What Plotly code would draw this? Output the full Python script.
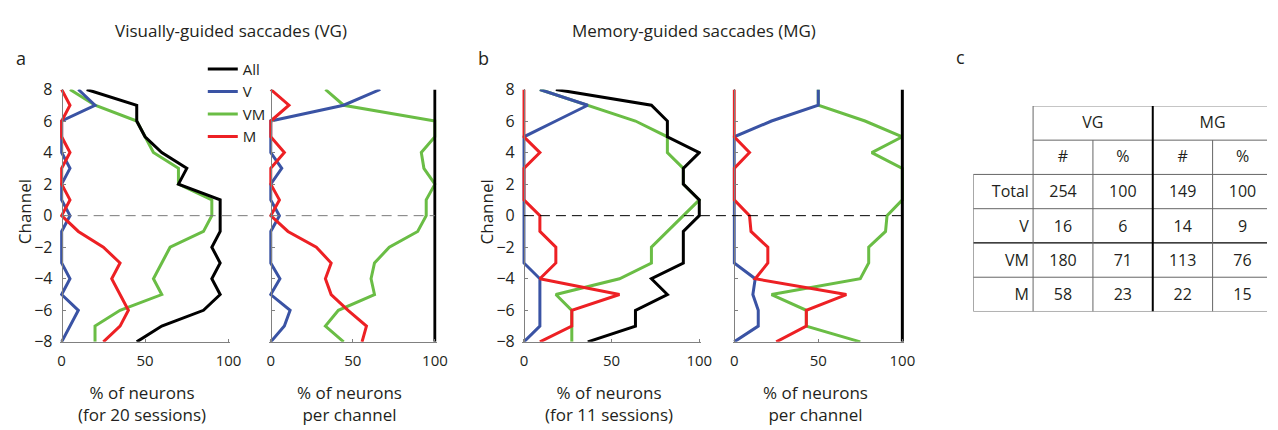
import plotly.graph_objects as go

W, H = 1278, 430
FONT = "Open Sans"
TXT = "#231f20"

# recording channels, top (8) to bottom (-8)
channels = [8, 7, 6, 5, 4, 3, 2, 1, 0, -1, -2, -3, -4, -5, -6, -7, -8]

# Visually-guided saccades: % of neurons (20 sessions)
vg_all = [15, 45, 45, 50, 60, 75, 70, 95, 95, 95, 90, 95, 90, 95, 85, 60, 45]
vg_v = [10, 20, 0, 0, 0, 5, 0, 0, 5, 0, 0, 0, 5, 0, 10, 5, 0]
vg_vm = [5, 20, 45, 50, 55, 70, 70, 90, 90, 85, 65, 60, 55, 60, 35, 20, 20]
vg_m = [0, 5, 0, 0, 5, 0, 0, 5, 0, 10, 25, 35, 30, 35, 40, 35, 25]

# Visually-guided saccades: % of neurons per channel
vgc_all = [100, 100, 100, 100, 100, 100, 100, 100, 100, 100, 100, 100, 100, 100, 100, 100, 100]
vgc_v = [66.7, 44.4, 0, 0, 0, 6.7, 0, 0, 5.3, 0, 0, 0, 5.6, 0, 11.8, 8.3, 0]
vgc_vm = [33.3, 44.4, 100, 100, 91.7, 93.3, 100, 94.7, 94.7, 89.5, 72.2, 63.2, 61.1, 63.2, 41.2, 33.3, 44.4]
vgc_m = [0, 11.1, 0, 0, 8.3, 0, 0, 5.3, 0, 10.5, 27.8, 36.8, 33.3, 36.8, 47.1, 58.3, 55.6]

# Memory-guided saccades: % of neurons (11 sessions)
mg_all = [18.2, 72.7, 81.8, 81.8, 100, 90.9, 90.9, 100, 100, 90.9, 90.9, 90.9, 72.7, 81.8, 63.6, 63.6, 36.4]
mg_v = [9.1, 36.4, 18.2, 0, 0, 0, 0, 0, 0, 0, 0, 0, 9.1, 9.1, 9.1, 9.1, 0]
mg_vm = [9.1, 36.4, 63.6, 81.8, 81.8, 90.9, 90.9, 100, 90.9, 81.8, 72.7, 72.7, 54.5, 18.2, 27.3, 27.3, 27.3]
mg_m = [0, 0, 0, 0, 9.1, 0, 0, 0, 9.1, 9.1, 18.2, 18.2, 9.1, 54.5, 27.3, 27.3, 9.1]

# Memory-guided saccades: % of neurons per channel
mgc_all = [100, 100, 100, 100, 100, 100, 100, 100, 100, 100, 100, 100, 100, 100, 100, 100, 100]
mgc_v = [50, 50, 22.2, 0, 0, 0, 0, 0, 0, 0, 0, 0, 12.5, 11.1, 14.3, 14.3, 0]
mgc_vm = [50, 50, 77.8, 100, 81.8, 100, 100, 100, 90.9, 90, 80, 80, 75, 22.2, 42.9, 42.9, 75]
mgc_m = [0, 0, 0, 0, 9.1, 0, 0, 0, 9.1, 10, 20, 20, 12.5, 66.7, 42.9, 42.9, 25]

# summary table (panel c)
table_groups = ["VG", "MG"]
table_cols = ["#", "%", "#", "%"]
table_rows = ["Total", "V", "VM", "M"]
vg_count = [254, 16, 180, 58]
vg_pct = [100, 6, 71, 23]
mg_count = [149, 14, 113, 22]
mg_pct = [100, 9, 76, 15]

x_ticks = [0, 50, 100]
y_ticks = [8, 6, 4, 2, 0, -2, -4, -6, -8]

colors = {"All": "#000000", "V": "#3a53a4", "VM": "#6abd45", "M": "#ed2024"}
legend_rank = {"All": 1, "V": 2, "VM": 3, "M": 4}
draw_order = ["VM", "V", "M", "All"]


def px(x):
    return x / W


def py(y):
    return 1 - y / H


panels = [
    dict(series={"All": vg_all, "V": vg_v, "VM": vg_vm, "M": vg_m},
         x0=59.3, x100=228.0, title="% of neurons<br>(for 20 sessions)", labels=True),
    dict(series={"All": vgc_all, "V": vgc_v, "VM": vgc_vm, "M": vgc_m},
         x0=270.7, x100=436.7, title="% of neurons<br>per channel", labels=False),
    dict(series={"All": mg_all, "V": mg_v, "VM": mg_vm, "M": mg_m},
         x0=526.7, x100=704.0, title="% of neurons<br>(for 11 sessions)", labels=True),
    dict(series={"All": mgc_all, "V": mgc_v, "VM": mgc_vm, "M": mgc_m},
         x0=739.3, x100=909.3, title="% of neurons<br>per channel", labels=False),
]

Y_TOP, Y_BOT = 82.7, 348.7
AXIS_GRAY = "#808080"

fig = go.Figure()
layout_axes = {}
annotations = []

for k, p in enumerate(panels, start=1):
    sfx = "" if k == 1 else str(k)
    for name in draw_order:
        fig.add_trace(go.Scatter(
            x=p["series"][name], y=channels, mode="lines",
            line=dict(color=colors[name], width=3),
            name=name, legendrank=legend_rank[name], showlegend=(k == 1),
            xaxis="x" + sfx, yaxis="y" + sfx, hoverinfo="skip",
        ))
    unit = (p["x100"] - p["x0"]) / 100.0
    layout_axes["xaxis" + sfx] = dict(
        domain=[px(p["x0"] - unit), px(p["x100"] + unit)], range=[-1, 101],
        anchor="y" + sfx, tickvals=x_ticks, ticks="inside", ticklen=3,
        tickcolor=AXIS_GRAY, showline=True, linecolor=AXIS_GRAY, linewidth=1,
        showgrid=False, zeroline=False, tickfont=dict(size=15, color=TXT),
        ticklabelstandoff=5,
    )
    layout_axes["yaxis" + sfx] = dict(
        domain=[py(Y_BOT), py(Y_TOP)], range=[-8, 8], anchor="free",
        position=px(p["x0"]), tickvals=y_ticks, ticks="inside", ticklen=3,
        tickcolor=AXIS_GRAY, showline=True, linecolor=AXIS_GRAY, linewidth=1,
        showgrid=False, zeroline=False, showticklabels=p["labels"],
        tickfont=dict(size=16, color=TXT), ticklabelstandoff=6,
    )
    # axis title under each panel
    annotations.append(dict(
        text=p["title"], x=px((p["x0"] + p["x100"]) / 2 - 3), y=py(388),
        xref="paper", yref="paper", xanchor="center", yanchor="top",
        showarrow=False, font=dict(size=17, color=TXT),
    ))
    if p["labels"]:
        annotations.append(dict(
            text="Channel", textangle=-90, x=px(p["x0"] - 38), y=py(212),
            xref="paper", yref="paper", xanchor="center", yanchor="middle",
            showarrow=False, font=dict(size=17, color=TXT),
        ))

# dashed reference line at channel 0 across each pair of panels
shapes = [
    dict(type="line", xref="paper", yref="y", x0=px(panels[0]["x0"]), x1=px(panels[1]["x100"]),
         y0=0, y1=0, line=dict(color="#7a7a7a", width=1, dash="10px,6px")),
    dict(type="line", xref="paper", yref="y3", x0=px(panels[2]["x0"]), x1=px(panels[3]["x100"]),
         y0=0, y1=0, line=dict(color="#000000", width=1, dash="10px,6px")),
]

# ---- summary table on its own hidden axes (columns / rows in index units) ----
T_LEFT, T_TOP, T_BOT, COL_W = 981.0, 100.0, 316.7, 60.5
layout_axes["xaxis5"] = dict(domain=[px(T_LEFT), 1.0], range=[0, (W - T_LEFT) / COL_W],
                             visible=False, anchor="y5")
layout_axes["yaxis5"] = dict(domain=[py(T_BOT), py(T_TOP)], range=[6, 0],
                             visible=False, anchor="x5")

n_rows = 2 + len(table_rows)
n_cols = 1 + len(table_cols)
THIN = "#666666"
# horizontal rules: (row boundary, first column)
for r in range(n_rows + 1):
    c0 = 1 if r < 2 else 0
    dark = (r == 4)
    shapes.append(dict(type="line", xref="x5", yref="y5", x0=c0, x1=n_cols + 1, y0=r, y1=r,
                       line=dict(color="#000000" if dark else THIN, width=1.2 if dark else 1)))
# vertical rules: (column boundary, first row)
for c in range(n_cols):
    r0 = {0: 2, 1: 0, 3: 0}.get(c, 1)
    thick = (c == 3)
    shapes.append(dict(type="line", xref="x5", yref="y5", x0=c, x1=c, y0=r0, y1=n_rows,
                       line=dict(color="#000000" if thick else THIN, width=2 if thick else 1)))

tfont = dict(size=16, color=TXT, family=FONT)
fig.add_trace(go.Scatter(x=[2, 4], y=[0.52, 0.52], text=table_groups, mode="text",
                         textfont=tfont, xaxis="x5", yaxis="y5", showlegend=False, hoverinfo="skip"))
fig.add_trace(go.Scatter(x=[1.5, 2.5, 3.5, 4.5], y=[1.52] * 4, text=table_cols, mode="text",
                         textfont=tfont, xaxis="x5", yaxis="y5", showlegend=False, hoverinfo="skip"))
row_y = [2.55 + i for i in range(len(table_rows))]
fig.add_trace(go.Scatter(x=[0.93] * len(table_rows), y=row_y, text=table_rows, mode="text",
                         textposition="middle left", textfont=tfont, xaxis="x5", yaxis="y5",
                         showlegend=False, hoverinfo="skip"))
for col_x, vals in zip([1.5, 2.5, 3.5, 4.5], [vg_count, vg_pct, mg_count, mg_pct]):
    fig.add_trace(go.Scatter(x=[col_x] * len(vals), y=row_y, text=[str(v) for v in vals],
                             mode="text", textfont=tfont, xaxis="x5", yaxis="y5",
                             showlegend=False, hoverinfo="skip"))

# section titles and panel letters
for text, x, y, size in [
    ("Visually-guided saccades (VG)", 231, 21, 17),
    ("Memory-guided saccades (MG)", 699, 21, 17),
]:
    annotations.append(dict(text=text, x=px(x), y=py(y), xref="paper", yref="paper",
                            xanchor="center", yanchor="middle", showarrow=False,
                            font=dict(size=size, color=TXT)))
for text, x, y in [("a", 18, 50), ("b", 486, 50), ("c", 968, 48)]:
    annotations.append(dict(text=text, x=px(x), y=py(y), xref="paper", yref="paper",
                            xanchor="center", yanchor="middle", showarrow=False,
                            font=dict(size=18, color=TXT)))

fig.update_layout(
    width=W, height=H, margin=dict(l=0, r=0, t=0, b=0),
    paper_bgcolor="white", plot_bgcolor="rgba(0,0,0,0)",
    font=dict(family=FONT, color=TXT),
    showlegend=True,
    legend=dict(x=px(202), y=py(44), xanchor="left", yanchor="top",
                bgcolor="rgba(0,0,0,0)", font=dict(size=15, color=TXT),
                tracegroupgap=0, itemwidth=30),
    annotations=annotations, shapes=shapes,
    **layout_axes,
)

fig.write_html("out.html")
